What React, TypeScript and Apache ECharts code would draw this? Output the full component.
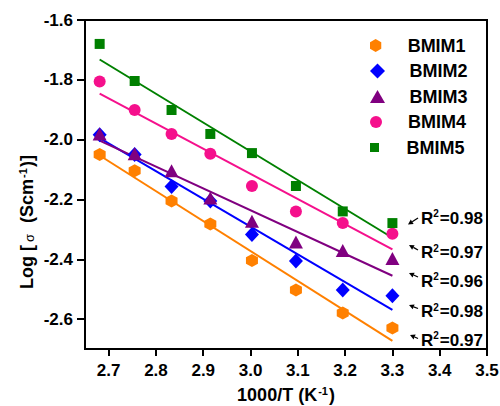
import React, { useEffect, useRef } from "react";
import * as echarts from "echarts";

const seriesNames = ["BMIM1", "BMIM2", "BMIM3", "BMIM4", "BMIM5"];
const seriesColors = ["#FF8000", "#0000FF", "#800080", "#F5108C", "#008000"];
const invTemp = [2.681, 2.755, 2.833, 2.915, 3.003, 3.096, 3.195, 3.3];
const bmim1 = [-2.05, -2.104, -2.205, -2.282, -2.404, -2.503, -2.58, -2.63];
const bmim2 = [-1.984, -2.05, -2.157, -2.205, -2.317, -2.406, -2.503, -2.522];
const bmim3 = [-1.981, -2.047, -2.104, -2.195, -2.273, -2.342, -2.371, -2.397];
const bmim4 = [-1.806, -1.901, -1.981, -2.047, -2.155, -2.24, -2.279, -2.315];
const bmim5 = [-1.68, -1.804, -1.901, -1.981, -2.045, -2.155, -2.24, -2.279];
const fitX = [2.681, 3.3];
const fit1 = [-2.053, -2.673];
const fit2 = [-1.995, -2.569];
const fit3 = [-2.003, -2.455];
const fit4 = [-1.846, -2.367];
const fit5 = [-1.732, -2.328];
const r2Values = ["0.98", "0.97", "0.96", "0.98", "0.97"]; // top to bottom
const xTicks = [2.7, 2.8, 2.9, 3.0, 3.1, 3.2, 3.3, 3.4, 3.5];
const yTicks = [-2.6, -2.4, -2.2, -2.0, -1.8, -1.6];

const FONT = "'Liberation Sans', Arial, Helvetica, sans-serif";

const symHex = "path://M0,-10L8.66,-5L8.66,5L0,10L-8.66,5L-8.66,-5Z";
const symDiamond = "path://M0,-10L10,0L0,10L-10,0Z";
const symTriangle = "path://M0,-10L10,7.32L-10,7.32Z";
const symCircle = "path://M10,0A10,10,0,1,1,-10,0A10,10,0,1,1,10,0Z";
const symSquare = "path://M0,0H10V10H0Z";
const symbols = [symHex, symDiamond, symTriangle, symCircle, symSquare];
const plotSizes: [number, number][] = [
  [12, 13],
  [14, 15],
  [14, 13],
  [12, 12],
  [10, 10],
];
const legendSizes = [13, 15, 13, 12, 9];

function arrow(x1: number, y1: number, x2: number, y2: number) {
  const dx = x2 - x1;
  const dy = y2 - y1;
  const len = Math.sqrt(dx * dx + dy * dy);
  const ux = dx / len;
  const uy = dy / len;
  const hl = 5;
  const hw = 2.6;
  const bx = x2 - ux * hl;
  const by = y2 - uy * hl;
  return [
    {
      type: "line",
      shape: { x1, y1, x2: bx, y2: by },
      style: { stroke: "#000", lineWidth: 1.3 },
    },
    {
      type: "polygon",
      shape: {
        points: [
          [x2, y2],
          [bx - uy * hw, by + ux * hw],
          [bx + uy * hw, by - ux * hw],
        ],
      },
      style: { fill: "#000" },
    },
  ];
}

export default function App() {
  const ref = useRef<HTMLDivElement>(null);
  useEffect(() => {
    if (!ref.current) return;
    const chart = echarts.init(ref.current, undefined, { renderer: "svg" });
    const data = [bmim1, bmim2, bmim3, bmim4, bmim5];
    const fits = [fit1, fit2, fit3, fit4, fit5];

    const scatterSeries = seriesNames.map((name, i) => ({
      name,
      type: "scatter",
      symbol: symbols[i],
      symbolSize: plotSizes[i],
      itemStyle: { color: seriesColors[i], opacity: 1 },
      data: invTemp.map((x, j) => [x, data[i][j]]),
      z: 3,
    }));
    const fitSeries = seriesNames.map((name, i) => ({
      name: name + " fit",
      type: "line",
      symbol: "none",
      showSymbol: false,
      lineStyle: { color: seriesColors[i], width: 2 },
      data: fitX.map((x, j) => [x, fits[i][j]]),
      z: 2,
    }));

    const legendRowY = [45.5, 71, 96.5, 122, 147.5];
    const legends = seriesNames.map((name, i) => ({
      show: true,
      orient: "vertical",
      left: 370,
      top: legendRowY[i] - 9,
      padding: 0,
      itemWidth: 54,
      itemHeight: legendSizes[i],
      symbolKeepAspect: true,
      textStyle: { fontSize: 18, fontWeight: "bold", color: "#000", fontFamily: FONT },
      data: [{ name, icon: symbols[i] }],
    }));

    const r2Y = [218, 252.5, 281, 311.5, 340];
    const arrows = [
      [418, 218, 408, 224.5],
      [418, 250, 409, 245],
      [418, 277, 409, 273],
      [418, 308.5, 409, 305],
      [418, 338.5, 410, 335],
    ];
    const graphics: any[] = [];
    r2Values.forEach((v, i) => {
      graphics.push({
        type: "text",
        x: 421,
        y: r2Y[i],
        style: {
          text: "{n|R}{s|2}{n|=" + v + "}",
          verticalAlign: "middle",
          align: "left",
          rich: {
            n: { fontSize: 17, fontWeight: "bold", fill: "#000", fontFamily: FONT },
            s: { fontSize: 10, fontWeight: "bold", fill: "#000", fontFamily: FONT, padding: [0, 1, 9, 0] },
          },
        },
      });
      graphics.push(...arrow(arrows[i][0], arrows[i][1], arrows[i][2], arrows[i][3]));
    });
    graphics.push({
      type: "text",
      x: 27,
      y: 222,
      rotation: Math.PI / 2,
      style: {
        text: "{n|Log [}{g|σ}{n|  (Scm}{s|-1}{n|)]}",
        align: "center",
        verticalAlign: "middle",
        rich: {
          n: { fontSize: 18, fontWeight: "bold", fill: "#000", fontFamily: FONT },
          g: { fontSize: 13, fontWeight: "normal", fill: "#000", fontFamily: FONT, padding: [4, 1, 0, 3] },
          s: { fontSize: 11, fontWeight: "bold", fill: "#000", fontFamily: FONT, padding: [0, 1, 9, 1] },
        },
      },
    });

    const option: any = {
      animation: false,
      backgroundColor: "#fff",
      grid: {
        left: 85,
        right: 13,
        top: 20,
        bottom: 57,
        show: true,
        borderColor: "#000",
        borderWidth: 2,
        containLabel: false,
        outerBoundsMode: "none",
      },
      legend: legends,
      xAxis: {
        type: "value",
        min: 2.65,
        max: 3.5,
        axisLine: { show: true, onZero: false, lineStyle: { color: "#000", width: 2 } },
        axisTick: { show: true, customValues: xTicks, length: 7, lineStyle: { color: "#000", width: 2 } },
        axisLabel: {
          customValues: xTicks,
          formatter: (v: number) => v.toFixed(1),
          fontSize: 17,
          fontWeight: "bold",
          color: "#000",
          fontFamily: FONT,
          margin: 13,
        },
        splitLine: { show: false },
        name: "{n|1000/T (K}{s|-1}{n|)}",
        nameLocation: "middle",
        nameGap: 36,
        nameTextStyle: {
          rich: {
            n: { fontSize: 18, fontWeight: "bold", color: "#000", fontFamily: FONT },
            s: { fontSize: 11, fontWeight: "bold", color: "#000", fontFamily: FONT, padding: [0, 1, 9, 1] },
          },
        },
      },
      yAxis: {
        type: "value",
        min: -2.7,
        max: -1.6,
        axisLine: { show: true, onZero: false, lineStyle: { color: "#000", width: 2 } },
        axisTick: { show: true, customValues: yTicks, length: 8, lineStyle: { color: "#000", width: 2 } },
        axisLabel: {
          customValues: yTicks,
          formatter: (v: number) => v.toFixed(1),
          fontSize: 17,
          fontWeight: "bold",
          color: "#000",
          fontFamily: FONT,
          margin: 12,
        },
        splitLine: { show: false },
      },
      series: [...fitSeries, ...scatterSeries],
      graphic: graphics,
    };
    chart.setOption(option);
    return () => chart.dispose();
  }, []);
  return <div ref={ref} style={{ position: "fixed", left: 0, top: 0, width: 500, height: 406 }} />;
}
